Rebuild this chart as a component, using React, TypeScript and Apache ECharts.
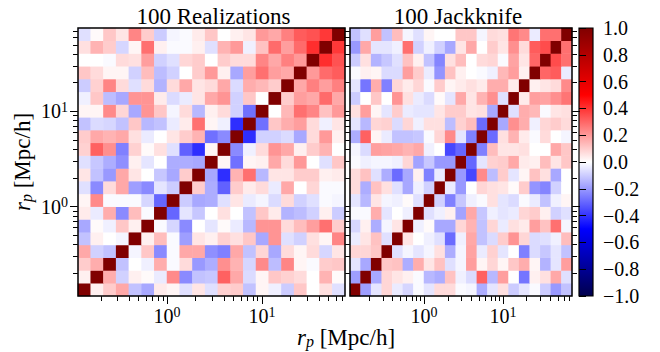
import React, { useEffect, useRef } from 'react';
import * as echarts from 'echarts';

const binCount = 21;
const rpMin = 0.115;
const rpMax = 75;
const majorTicks = [1, 10];
const minorTicks = [0.2, 0.3, 0.4, 0.5, 0.6, 0.7, 0.8, 0.9, 2, 3, 4, 5, 6, 7, 8, 9, 20, 30, 40, 50, 60, 70];
const colorbarTicks = [-1, -0.8, -0.6, -0.4, -0.2, 0, 0.2, 0.4, 0.6, 0.8, 1];
const panelTitles = ['100 Realizations', '100 Jackknife'];
const axisTitle = '{i|r}{sub|p} [Mpc/h]';
const seismic = ['#00004d', '#0000ff', '#ffffff', '#ff0000', '#800000'];

// Lower triangles (row index r = bin along y, entries are columns 0..r-1); matrices are symmetric, diagonal = 1
const realizationsLower: number[][] = [
  [],
  [0.03],
  [0.10, 0.16],
  [0.17, -0.09, -0.12],
  [-0.12, 0.03, 0.00, -0.02],
  [-0.17, 0.01, -0.03, 0.11, 0.03],
  [0.04, -0.04, 0.16, -0.23, 0.13, -0.01],
  [0.02, 0.23, -0.01, -0.01, -0.01, -0.08, -0.30],
  [-0.06, -0.23, 0.07, 0.17, -0.19, -0.23, -0.05, -0.10],
  [0.05, -0.12, -0.20, 0.17, 0.05, 0.00, -0.11, -0.17, 0.10],
  [-0.06, -0.11, -0.16, -0.22, 0.03, -0.05, 0.00, -0.16, -0.16, -0.17],
  [0.09, 0.31, 0.22, -0.25, 0.09, 0.01, 0.06, -0.06, -0.31, -0.41, 0.02],
  [0.10, 0.17, 0.15, 0.17, 0.06, -0.04, 0.00, 0.05, 0.10, 0.15, -0.28, -0.23],
  [-0.12, -0.07, -0.08, -0.12, 0.11, -0.14, -0.12, -0.04, 0.04, 0.28, 0.02, -0.03, -0.41],
  [0.02, 0.02, 0.23, 0.08, -0.17, 0.21, 0.11, -0.02, 0.07, -0.14, 0.03, 0.07, -0.09, -0.28],
  [-0.03, 0.11, -0.13, -0.17, 0.21, 0.21, 0.04, -0.07, -0.04, 0.05, 0.17, 0.21, -0.09, 0.11, 0.00],
  [-0.10, 0.09, 0.24, 0.07, -0.06, 0.07, -0.15, 0.07, 0.17, 0.05, 0.07, 0.17, -0.07, 0.16, 0.14, 0.10],
  [0.11, 0.07, 0.02, 0.02, -0.09, 0.13, -0.13, -0.09, 0.00, 0.10, 0.20, 0.03, -0.17, 0.19, 0.28, 0.19, 0.17],
  [0.00, 0.00, -0.01, 0.07, 0.06, 0.19, -0.09, -0.06, 0.08, 0.10, 0.00, 0.10, 0.07, 0.07, 0.24, 0.17, 0.25, 0.20],
  [0.06, 0.15, 0.10, -0.08, 0.02, 0.28, 0.03, -0.01, -0.01, 0.03, -0.06, 0.15, 0.20, -0.03, 0.12, 0.29, 0.19, 0.29, 0.41],
  [-0.06, 0.01, 0.11, 0.05, 0.24, 0.10, -0.10, -0.02, -0.01, 0.04, 0.11, 0.00, 0.03, 0.05, 0.20, 0.17, 0.25, 0.32, 0.34, 0.39],
];

const jackknifeLower: number[][] = [
  [],
  [-0.19],
  [-0.05, -0.17],
  [0.08, 0.08, 0.11],
  [-0.04, 0.05, 0.12, -0.06],
  [-0.08, 0.03, -0.16, -0.02, 0.05],
  [-0.01, -0.01, 0.16, -0.05, 0.00, -0.03],
  [-0.05, -0.14, 0.05, -0.02, -0.03, 0.01, -0.06],
  [0.07, -0.16, 0.12, 0.06, -0.06, -0.17, -0.03, -0.09],
  [0.07, 0.12, -0.06, -0.16, -0.29, -0.17, 0.03, -0.25, -0.04],
  [-0.01, -0.03, -0.02, -0.02, -0.03, 0.08, -0.18, -0.11, -0.20, -0.20],
  [-0.02, -0.07, 0.19, 0.18, 0.17, 0.15, 0.17, -0.03, 0.00, -0.36, -0.30],
  [-0.16, 0.31, 0.02, -0.04, -0.12, -0.12, -0.11, -0.01, 0.08, 0.23, -0.05, -0.25],
  [-0.05, -0.14, 0.08, 0.09, -0.07, 0.08, -0.03, 0.06, 0.06, -0.13, 0.09, 0.13, -0.29],
  [0.06, 0.19, 0.02, -0.05, 0.10, -0.04, -0.05, -0.05, 0.05, 0.10, 0.10, 0.05, 0.06, -0.17],
  [-0.10, 0.00, 0.11, 0.00, 0.21, 0.06, -0.04, -0.07, 0.01, -0.05, 0.17, 0.05, 0.15, 0.22, -0.06],
  [-0.05, -0.27, 0.16, -0.25, 0.08, 0.04, 0.08, -0.01, 0.10, 0.02, 0.04, 0.06, 0.04, 0.16, 0.16, 0.04],
  [-0.01, 0.03, 0.02, -0.07, -0.07, 0.19, 0.10, -0.04, -0.21, 0.12, 0.03, 0.00, -0.01, -0.03, 0.14, 0.19, 0.03],
  [-0.10, 0.06, -0.15, -0.11, -0.06, 0.12, 0.03, -0.12, -0.24, 0.06, 0.13, 0.00, 0.07, 0.08, -0.01, 0.18, 0.05, 0.30],
  [-0.20, 0.17, -0.05, -0.05, -0.03, 0.28, -0.09, -0.03, -0.09, -0.17, 0.05, 0.17, 0.00, 0.10, 0.05, 0.22, 0.07, 0.32, 0.35],
  [-0.12, -0.06, 0.19, -0.12, 0.13, -0.02, -0.06, 0.02, 0.00, 0.00, 0.11, 0.11, -0.02, 0.07, 0.06, 0.27, 0.23, -0.04, 0.28, 0.28],
];

const FONT = "'Liberation Serif', 'Times New Roman', 'DejaVu Serif', serif";

function toCells(lower: number[][]) {
  const out: number[][] = [];
  for (let r = 0; r < binCount; r++) {
    for (let c = 0; c < binCount; c++) {
      const v = r === c ? 1 : r > c ? lower[r][c] : lower[c][r];
      out.push([c, r, v]);
    }
  }
  return out;
}

const supRich = {
  b: { fontFamily: FONT, fontSize: 20, lineHeight: 22, color: '#000' },
  s: { fontFamily: FONT, fontSize: 14, lineHeight: 10, verticalAlign: 'top', color: '#000' },
};
const supFormatter = (v: number) => `{b|10}{s|${Math.round(Math.log10(v))}}`;

const titleRich = {
  i: { fontFamily: FONT, fontSize: 23, fontStyle: 'italic', lineHeight: 25, fill: '#000', color: '#000' },
  sub: { fontFamily: FONT, fontSize: 16, fontStyle: 'italic', lineHeight: 10, verticalAlign: 'bottom', fill: '#000', color: '#000' },
};

const panels = [
  { left: 78, width: 267 },
  { left: 350, width: 222 },
];
const TOP = 28;
const HEIGHT = 268;

function logAxis(gridIndex: number, position: string, ticks: number[], len: number, labels: boolean, margin: number) {
  return {
    type: 'log',
    logBase: 10,
    gridIndex,
    position,
    min: rpMin,
    max: rpMax,
    axisLine: { show: false },
    splitLine: { show: false },
    minorTick: { show: false },
    axisTick: { show: true, inside: false, length: len, lineStyle: { color: '#000', width: 1 }, customValues: ticks },
    axisLabel: labels
      ? { show: true, customValues: majorTicks, formatter: supFormatter, margin, rich: supRich, color: '#000' }
      : { show: false },
  };
}

export default function App() {
  const ref = useRef<HTMLDivElement>(null);
  useEffect(() => {
    document.body.style.margin = '0';
    const chart = echarts.init(ref.current!, null, { renderer: 'svg' });
    const cats = Array.from({ length: binCount }, (_, i) => String(i));
    const grids: any[] = [];
    const xAxes: any[] = [];
    const yAxes: any[] = [];
    panels.forEach((p) => {
      grids.push({ left: p.left, top: TOP, width: p.width, height: HEIGHT, containLabel: false });
    });
    panels.forEach((p) => {
      grids.push({
        left: p.left, top: TOP, width: p.width, height: HEIGHT, show: true, z: 5,
        backgroundColor: 'transparent', borderColor: '#000', borderWidth: 1.5,
      });
    });
    grids.push({
      left: 579, top: TOP, width: 14, height: HEIGHT, show: true, borderColor: '#000', borderWidth: 1.2,
      backgroundColor: new echarts.graphic.LinearGradient(0, 0, 0, 1, [
        { offset: 0, color: seismic[4] },
        { offset: 0.25, color: seismic[3] },
        { offset: 0.5, color: seismic[2] },
        { offset: 0.75, color: seismic[1] },
        { offset: 1, color: seismic[0] },
      ]),
    });
    // heatmap category axes
    [0, 1].forEach((g) => {
      xAxes.push({ type: 'category', gridIndex: g, data: cats, show: false });
      yAxes.push({ type: 'category', gridIndex: g, data: cats, show: false });
    });
    // decorative log axes
    [0, 1].forEach((k) => {
      const g = 2 + k;
      const leftMajor = k === 0 ? 8 : 5;
      const leftMinor = k === 0 ? 5 : 4;
      const rightMajor = k === 0 ? 5 : 8;
      const rightMinor = k === 0 ? 4 : 5;
      xAxes.push(logAxis(g, 'bottom', majorTicks, 8, true, 9));
      xAxes.push(logAxis(g, 'bottom', minorTicks, 5, false, 0));
      yAxes.push(logAxis(g, 'left', majorTicks, leftMajor, k === 0, 10));
      yAxes.push(logAxis(g, 'left', minorTicks, leftMinor, false, 0));
      yAxes.push(logAxis(g, 'right', majorTicks, rightMajor, false, 0));
      yAxes.push(logAxis(g, 'right', minorTicks, rightMinor, false, 0));
    });
    xAxes.push({ type: 'value', gridIndex: 4, show: false, min: 0, max: 1 });
    yAxes.push({
      type: 'value', gridIndex: 4, position: 'right', min: -1, max: 1,
      axisLine: { show: false }, splitLine: { show: false },
      axisTick: { show: true, length: 7, lineStyle: { color: '#000', width: 1 }, customValues: colorbarTicks },
      axisLabel: {
        show: true, customValues: colorbarTicks, margin: 10, color: '#000', fontFamily: FONT, fontSize: 20,
        formatter: (v: number) => (v < 0 ? '\u2212' : '') + Math.abs(v).toFixed(1),
      },
    });

    const option: any = {
      animation: false,
      backgroundColor: '#fff',
      grid: grids,
      xAxis: xAxes,
      yAxis: yAxes,
      visualMap: {
        type: 'continuous', show: false, min: -1, max: 1, dimension: 2, seriesIndex: [0, 1],
        inRange: { color: seismic },
      },
      series: [
        { type: 'heatmap', xAxisIndex: 0, yAxisIndex: 0, data: toCells(realizationsLower), emphasis: { disabled: true } },
        { type: 'heatmap', xAxisIndex: 1, yAxisIndex: 1, data: toCells(jackknifeLower), emphasis: { disabled: true } },
      ],
      graphic: [
        {
          type: 'text', x: panels[0].left + panels[0].width / 2 + 2, y: 16, z: 10,
          style: { text: panelTitles[0], font: `23px ${FONT}`, fill: '#000', align: 'center', verticalAlign: 'middle' },
        },
        {
          type: 'text', x: panels[1].left + panels[1].width / 2 - 3, y: 16, z: 10,
          style: { text: panelTitles[1], font: `23px ${FONT}`, fill: '#000', align: 'center', verticalAlign: 'middle' },
        },
        {
          type: 'text', x: 346, y: 337, z: 10,
          style: { text: axisTitle, rich: titleRich, font: `23px ${FONT}`, fill: '#000', align: 'center', verticalAlign: 'middle' },
        },
        {
          type: 'text', x: 22, y: 162, rotation: Math.PI / 2, z: 10,
          style: { text: axisTitle, rich: titleRich, font: `23px ${FONT}`, fill: '#000', align: 'center', verticalAlign: 'middle' },
        },
      ],
    };
    chart.setOption(option);
    return () => chart.dispose();
  }, []);
  return <div ref={ref} style={{ width: 660, height: 352 }} />;
}
